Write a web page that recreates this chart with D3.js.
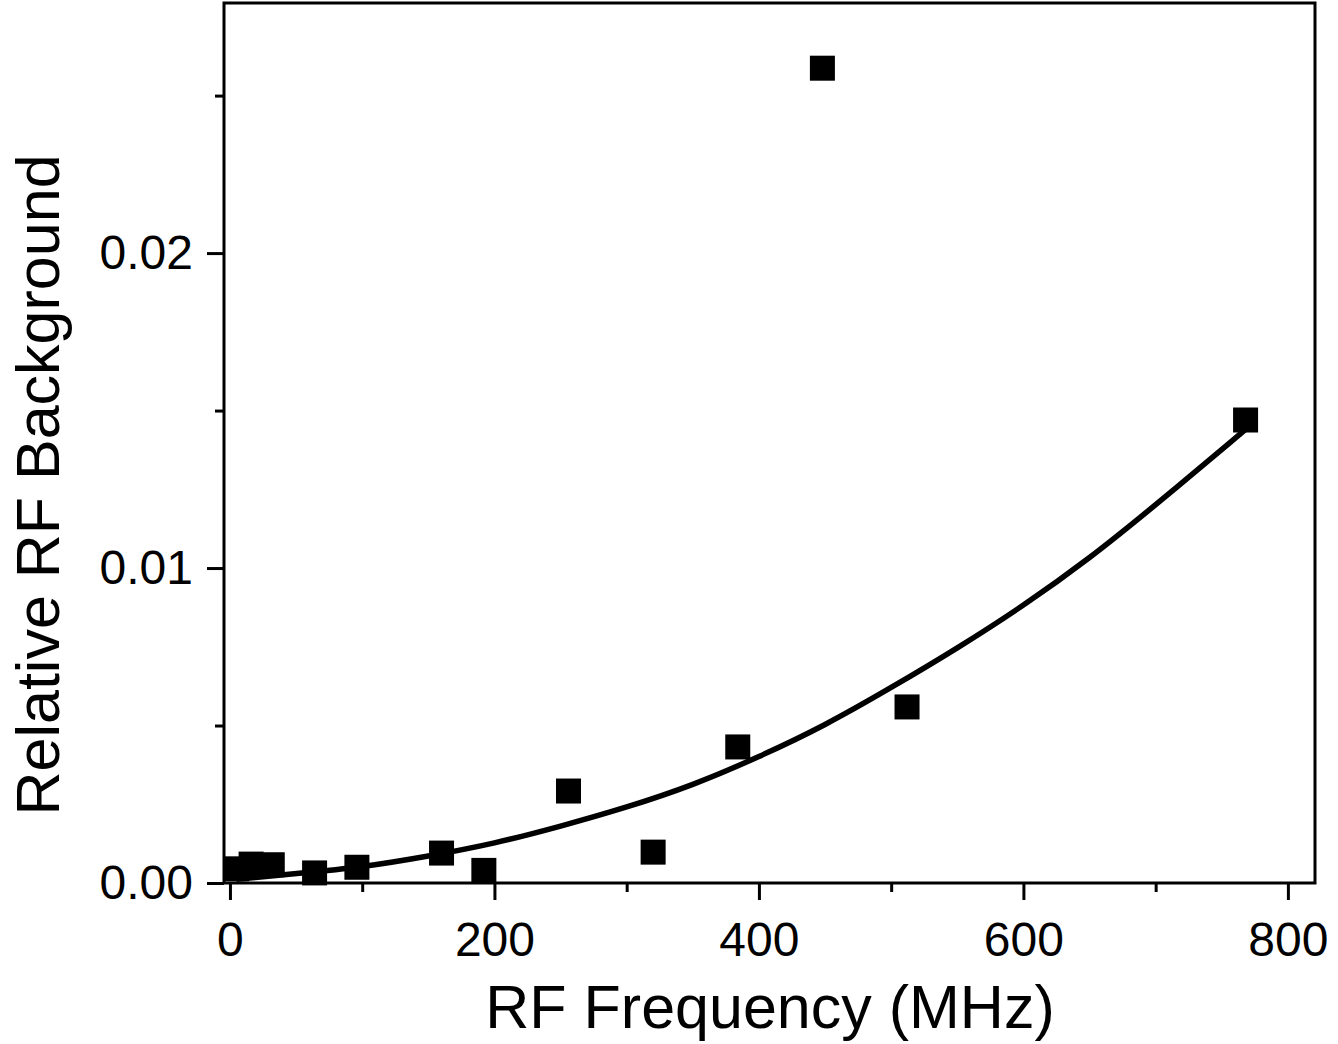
<!DOCTYPE html>
<html lang="en">
<head>
<meta charset="utf-8">
<title>Relative RF Background</title>
<script src="https://d3js.org/d3.v7.min.js"></script>
<style>
  body { margin: 0; background: #fff; }
  svg text { font-family: "Liberation Sans", Arial, sans-serif; fill: #000; }
</style>
</head>
<body>
<div id="chart"></div>
<script>
// measured points (MHz, relative background)
let freq = [5, 16, 32, 64, 96, 160, 192, 256, 320, 384, 448, 512, 768];
let background = [0.00045, 0.0006, 0.00058, 0.00032, 0.0005, 0.00095, 0.0004, 0.00292, 0.00098, 0.00432, 0.02587, 0.00559, 0.0147];

// fitted curve
let fitFreq = [5, 15, 50, 100, 150, 200, 250, 300, 350, 400, 450, 500, 550, 600, 650, 700, 768];
let fitValue = [0.00012, 0.00016, 0.0003, 0.0005, 0.00085, 0.00125, 0.0018, 0.0024, 0.0031, 0.0040, 0.0050, 0.0062, 0.00745, 0.0088, 0.0103, 0.0120, 0.0144];

let xMajor = [0, 200, 400, 600, 800];
let xMinor = [100, 300, 500, 700];
let yMajor = [0, 0.01, 0.02];
let yMinor = [0.005, 0.015, 0.025];

let width = 1338, height = 1044;
let plotLeft = 224, plotRight = 1315, plotTop = 3, plotBottom = 883;

let svg = d3.select("#chart").append("svg")
  .attr("width", width)
  .attr("height", height);

let x = d3.scaleLinear().domain([-4.5, 820.5]).range([plotLeft, plotRight]);
let y = d3.scaleLinear().domain([0, 0.02794]).range([plotBottom, plotTop]);

// x axis, major + minor ticks
let gxMinor = svg.append("g")
  .attr("transform", `translate(0,${plotBottom})`)
  .call(d3.axisBottom(x).tickValues(xMinor).tickSize(9).tickFormat(""));
let gx = svg.append("g")
  .attr("transform", `translate(0,${plotBottom})`)
  .call(d3.axisBottom(x).tickValues(xMajor).tickSize(17).tickPadding(22).tickFormat(d3.format("d")));

// y axis
let gyMinor = svg.append("g")
  .attr("transform", `translate(${plotLeft},0)`)
  .call(d3.axisLeft(y).tickValues(yMinor).tickSize(9).tickFormat(""));
let gy = svg.append("g")
  .attr("transform", `translate(${plotLeft},0)`)
  .call(d3.axisLeft(y).tickValues(yMajor).tickSize(17).tickPadding(14).tickFormat(d3.format(".2f")));

[gxMinor, gx, gyMinor, gy].forEach(g => {
  g.select(".domain").remove();
  g.selectAll(".tick line").attr("stroke", "#000").attr("stroke-width", 3);
});
gx.selectAll(".tick text").style("font-size", "48px");
gy.selectAll(".tick text").style("font-size", "48px");

// frame
svg.append("rect")
  .attr("x", plotLeft).attr("y", plotTop)
  .attr("width", plotRight - plotLeft).attr("height", plotBottom - plotTop)
  .attr("fill", "none")
  .attr("stroke", "#000")
  .attr("stroke-width", 3);

// fit line
let fit = fitFreq.map((f, i) => ({ f: f, v: fitValue[i] }));
svg.append("path")
  .datum(fit)
  .attr("fill", "none")
  .attr("stroke", "#000")
  .attr("stroke-width", 5.5)
  .attr("d", d3.line()
    .x(d => x(d.f))
    .y(d => y(d.v))
    .curve(d3.curveBasis));

// squares
let pts = freq.map((f, i) => ({ f: f, v: background[i] }));
let s = 25;
svg.selectAll("rect.pt")
  .data(pts)
  .enter()
  .append("rect")
  .attr("class", "pt")
  .attr("x", d => x(d.f) - s / 2)
  .attr("y", d => y(d.v) - s / 2)
  .attr("width", s)
  .attr("height", s)
  .attr("fill", "#000");

// axis titles
svg.append("text")
  .attr("x", 770)
  .attr("y", 1028)
  .attr("text-anchor", "middle")
  .style("font-size", "61px")
  .text("RF Frequency (MHz)");

svg.append("text")
  .attr("transform", "translate(59,485) rotate(-90)")
  .attr("text-anchor", "middle")
  .style("font-size", "61px")
  .text("Relative RF Background");
</script>
</body>
</html>
